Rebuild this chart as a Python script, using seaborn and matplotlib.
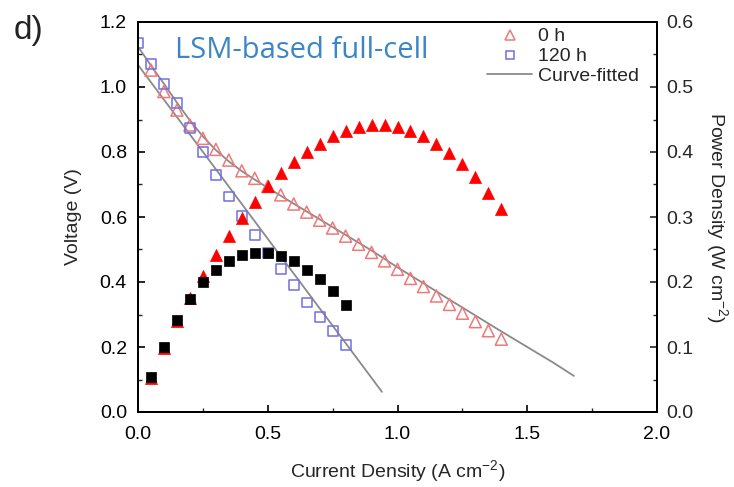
import matplotlib
matplotlib.use("Agg")
import matplotlib.pyplot as plt
import seaborn as sns
import pandas as pd
from matplotlib.lines import Line2D
from matplotlib.ticker import MultipleLocator, FormatStrFormatter

# Voltage / power density readings for the LSM-based full cell
j_0h = [0.05, 0.10, 0.15, 0.20, 0.25, 0.30, 0.35, 0.40, 0.45, 0.50,
        0.55, 0.60, 0.65, 0.70, 0.75, 0.80, 0.85, 0.90, 0.95, 1.00,
        1.05, 1.10, 1.15, 1.20, 1.25, 1.30, 1.35, 1.40]
v_0h = [1.052, 0.986, 0.929, 0.883, 0.842, 0.808, 0.775, 0.742, 0.719, 0.694,
        0.668, 0.640, 0.615, 0.590, 0.566, 0.541, 0.516, 0.491, 0.465, 0.439,
        0.411, 0.386, 0.357, 0.331, 0.304, 0.278, 0.250, 0.224]
p_0h = [0.053, 0.099, 0.140, 0.176, 0.209, 0.2415, 0.271, 0.298, 0.3235, 0.347,
        0.367, 0.385, 0.400, 0.413, 0.425, 0.433, 0.438, 0.4415, 0.4415, 0.438,
        0.433, 0.425, 0.412, 0.398, 0.3815, 0.361, 0.337, 0.312]

j_120h_v = [0.00, 0.05, 0.10, 0.15, 0.20, 0.25, 0.30, 0.35, 0.40, 0.45,
            0.50, 0.55, 0.60, 0.65, 0.70, 0.75, 0.80]
v_120h = [1.135, 1.070, 1.010, 0.950, 0.875, 0.800, 0.730, 0.663, 0.603, 0.545,
          0.490, 0.440, 0.390, 0.337, 0.293, 0.250, 0.206]
j_120h_p = [0.05, 0.10, 0.15, 0.20, 0.25, 0.30, 0.35, 0.40, 0.45, 0.50,
            0.55, 0.60, 0.65, 0.70, 0.75, 0.80]
p_120h = [0.0534, 0.1005, 0.1415, 0.174, 0.200, 0.219, 0.232, 0.241, 0.244, 0.244,
          0.240, 0.232, 0.219, 0.204, 0.186, 0.165]

# Fitted polarisation curves
fit_0h_j = [0.00, 0.05, 0.10, 0.15, 0.20, 0.25, 0.30, 0.35, 0.40, 0.45, 0.50,
            0.60, 0.70, 0.80, 0.90, 1.00, 1.10, 1.20, 1.30, 1.40, 1.50, 1.60, 1.68]
fit_0h_v = [1.124, 1.066, 1.010, 0.952, 0.897, 0.848, 0.806, 0.771, 0.741, 0.715, 0.690,
            0.641, 0.593, 0.545, 0.497, 0.445, 0.396, 0.346, 0.297, 0.248, 0.200, 0.152, 0.111]
fit_120h_j = [0.00, 0.10, 0.20, 0.30, 0.40, 0.50, 0.60, 0.70, 0.80, 0.94]
fit_120h_v = [1.068, 0.961, 0.854, 0.747, 0.640, 0.533, 0.426, 0.319, 0.212, 0.062]

sns.set_theme(style="ticks")
plt.rcParams["font.family"] = ["Liberation Sans", "DejaVu Sans"]
plt.rcParams["mathtext.fontset"] = "custom"
plt.rcParams["mathtext.rm"] = "Liberation Sans"
plt.rcParams["mathtext.it"] = "Liberation Sans"

fig = plt.figure(figsize=(7.34, 4.87), dpi=100)
ax = fig.add_axes([138 / 734, 1 - 412 / 487, (657 - 138) / 734, (412 - 22) / 487])
ax2 = ax.twinx()

LINE = "#8a8a8a"
OPEN_RED = "#f07878"
OPEN_BLUE = "#6f6fe6"

sns.lineplot(x=fit_0h_j, y=fit_0h_v, ax=ax, color=LINE, lw=1.3, sort=False, zorder=2)
sns.lineplot(x=fit_120h_j, y=fit_120h_v, ax=ax, color=LINE, lw=1.3, sort=False, zorder=2)

df0 = pd.DataFrame({"j": j_0h, "v": v_0h, "p": p_0h})
df120v = pd.DataFrame({"j": j_120h_v, "v": v_120h})
df120p = pd.DataFrame({"j": j_120h_p, "p": p_120h})

sns.scatterplot(data=df0, x="j", y="v", ax=ax, marker="^", s=75,
                facecolor="none", edgecolor=OPEN_RED, linewidth=1.1, zorder=3)
sns.scatterplot(data=df120v, x="j", y="v", ax=ax, marker="s", s=50,
                facecolor="none", edgecolor=OPEN_BLUE, linewidth=1.1, zorder=3)
sns.scatterplot(data=df0, x="j", y="p", ax=ax2, marker="^", s=75,
                color="#ff0000", edgecolor="#ff0000", linewidth=0.5, zorder=3)
sns.scatterplot(data=df120p, x="j", y="p", ax=ax2, marker="s", s=50,
                color="black", edgecolor="black", linewidth=0.5, zorder=4)

ax.set_xlim(0, 2.0)
ax.set_ylim(0, 1.2)
ax2.set_ylim(0, 0.6)

ax.xaxis.set_major_locator(MultipleLocator(0.5))
ax.xaxis.set_minor_locator(MultipleLocator(0.25))
ax.yaxis.set_major_locator(MultipleLocator(0.2))
ax.yaxis.set_minor_locator(MultipleLocator(0.1))
ax2.yaxis.set_major_locator(MultipleLocator(0.1))
ax2.yaxis.set_minor_locator(MultipleLocator(0.05))

for a in (ax, ax2):
    for s in a.spines.values():
        s.set_linewidth(1.4)
        s.set_color("black")
ax.tick_params(axis="both", which="major", direction="in", length=5, width=1.2,
               labelsize=14, colors="black")
ax.tick_params(axis="both", which="minor", direction="in", length=3, width=1.0)
ax.tick_params(axis="x", which="major", pad=10)
ax.tick_params(axis="y", which="major", pad=8)
ax2.tick_params(axis="y", which="major", direction="in", length=5, width=1.2,
                labelsize=14, pad=7)
ax2.tick_params(axis="y", which="minor", direction="in", length=3, width=1.0)
for fmt_axis in (ax.xaxis, ax.yaxis, ax2.yaxis):
    fmt_axis.set_major_formatter(FormatStrFormatter("%.1f"))

ax.set_xlabel("Current Density (A cm$^{-2}$)", fontsize=14, labelpad=11)
ax.set_ylabel("Voltage (V)", fontsize=14, labelpad=13)
ax2.set_ylabel("Power Density (W cm$^{-2}$)", fontsize=14, rotation=270, labelpad=26)

fig.text(175 / 734, 1 - 51 / 487, "LSM-based full-cell", fontsize=21, color="#3a86c8",
         family=["Open Sans", "DejaVu Sans"], ha="left", va="center")
fig.text(14 / 734, 1 - 31 / 487, "d)", fontsize=24, color="#222222", ha="left", va="center")

handles = [
    Line2D([], [], ls="none", marker="^", ms=7, mfc="none", mec=OPEN_RED, mew=1.1),
    Line2D([], [], ls="none", marker="s", ms=6, mfc="none", mec=OPEN_BLUE, mew=1.1),
    Line2D([], [], color=LINE, lw=1.3),
]
ax.legend(handles, ["0 h", "120 h", "Curve-fitted"], loc="upper right",
          bbox_to_anchor=(0.995, 1.025), frameon=False, fontsize=14,
          handlelength=2.3, handletextpad=0.3, labelspacing=0.12, borderpad=0.3)

fig.savefig("out.png", dpi=100)
